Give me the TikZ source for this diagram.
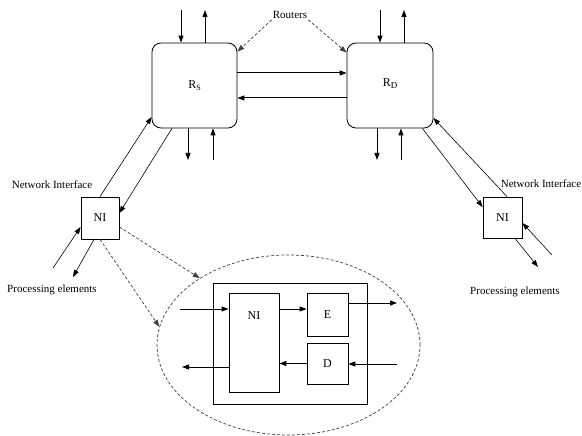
\documentclass[tikz,border=0pt]{standalone}
\usepackage{fontspec}
\setmainfont{Liberation Serif}
\usetikzlibrary{arrows.meta,shapes.geometric}
\begin{document}
\begin{tikzpicture}[x=1pt,y=-1pt,
  router/.style={draw,line width=0.8pt,rounded corners=9pt,inner sep=0pt,font=\fontsize{12}{14}\selectfont},
  box/.style={draw,line width=0.8pt,inner sep=0pt,font=\fontsize{12}{14}\selectfont},
  lbl/.style={font=\fontsize{11}{13}\selectfont,inner sep=1pt},
  arr/.style={line width=1pt,-{Triangle[length=7pt,width=5pt]}},
  thin arr/.style={line width=0.6pt,-{Triangle[length=7pt,width=5pt]}},
  dasharr/.style={line width=0.7pt,black!75,dash pattern=on 3pt off 2pt,-{Triangle[length=7pt,width=5pt]}}]
\useasboundingbox (0,0) rectangle (582,436);

% routers
\node[router,minimum width=85pt,minimum height=85pt] (rs) at (194.5,85.5) {R\raisebox{-0.35ex}{\fontsize{8}{9}\selectfont S}};
\node[router,minimum width=86pt,minimum height=85pt] (rd) at (390,85.5) {\raisebox{1ex}{R\raisebox{-0.35ex}{\fontsize{9}{9}\selectfont D}}};
\node[lbl] (routers) at (290,15) {Routers};
\draw[dasharr] (routers.south west) -- ([yshift=-9pt]rs.north east);
\draw[dasharr] (routers.south east) -- ([yshift=-10pt]rd.north west);

% links between the routers
\draw[arr] ([yshift=12.5pt]rs.east) -- ([yshift=12.5pt]rd.west);
\draw[arr] ([yshift=-12.5pt]rd.west) -- ([yshift=-12.5pt]rs.east);

% local ports of the routers
\coordinate (rsInT) at (181,10);
\coordinate (rsOutT) at (205,10);
\coordinate (rsOutB) at (188,160);
\coordinate (rsInB) at (213,160);
\coordinate (rdInT) at (380,10);
\coordinate (rdOutT) at (404,10);
\coordinate (rdOutB) at (377,160);
\coordinate (rdInB) at (401,160);
\draw[arr] (rsInT) -- (rsInT |- rs.north);
\draw[arr] (rsOutT |- rs.north) -- (rsOutT);
\draw[arr] (rsOutB |- rs.south) -- (rsOutB);
\draw[arr] (rsInB) -- (rsInB |- rs.south);
\draw[arr] (rdInT) -- (rdInT |- rd.north);
\draw[arr] (rdOutT |- rd.north) -- (rdOutT);
\draw[arr] (rdOutB |- rd.south) -- (rdOutB);
\draw[arr] (rdInB) -- (rdInB |- rd.south);

% network interfaces
\node[box,minimum width=38pt,minimum height=42pt] (niL) at (100,218) {NI};
\node[box,minimum width=39pt,minimum height=41pt] (niR) at (502.5,217.5) {NI};
\node[lbl] (netL) at (52,185) {Network Interface};
\node[lbl] (peL) at (52,290) {Processing elements};
\node[lbl] (netR) at (541,184) {Network Interface};
\node[lbl] (peR) at (515,292) {Processing elements};

\draw[thin arr] (niL.north) -- ([yshift=-31.5pt]rs.west);
\draw[thin arr] ([xshift=-22.5pt]rs.south) -- ([yshift=5pt]niL.east);
\coordinate (peLin) at (53,268);
\coordinate (peLout) at (73,277);
\draw[thin arr] (peLin) -- ([yshift=-9pt]niL.west);
\draw[thin arr] ([xshift=-6pt]niL.south) -- (peLout);

\draw[thin arr] ([xshift=-11pt]rd.south east) -- ([yshift=10.5pt]niR.west);
\draw[thin arr] ([xshift=4.5pt]niR.north) -- ([yshift=-32.5pt]rd.east);
\coordinate (peRout) at (538,267);
\coordinate (peRin) at (552,255);
\draw[thin arr] ([xshift=12.5pt]niR.south) -- (peRout);
\draw[thin arr] (peRin) -- ([yshift=-5.5pt]niR.east);

% detail of the network interface
\node[ellipse,draw,black!75,line width=0.7pt,dash pattern=on 3pt off 2pt,minimum width=263pt,minimum height=180pt,inner sep=0pt] (inset) at (288.5,345) {};
\draw[dasharr] ([yshift=-9pt]niL.east) -- (inset.143);
\draw[dasharr] (niL.south) -- (inset.172);

\node[box,minimum width=154pt,minimum height=121pt] (frame) at (290,343.5) {};
\node[box,minimum width=50pt,minimum height=99pt] (niB) at (254,342.5) {};
\node[font=\fontsize{12}{14}\selectfont] (niBtxt) at (254,316) {NI};
\node[box,minimum width=41pt,minimum height=43pt] (enc) at (327.5,314.5) {E};
\node[box,minimum width=41pt,minimum height=41pt] (dec) at (327.5,363.5) {D};

\coordinate (inA) at (180,309);
\coordinate (outA) at (182,367);
\coordinate (encOut) at (397,303);
\coordinate (decIn) at (397,364);
\draw[arr] (inA) -- (inA -| niB.west);
\draw[arr] ([yshift=5.5pt]enc.west -| niB.east) -- ([yshift=5.5pt]enc.west);
\draw[arr] ([yshift=11.5pt]enc.east) -- (encOut);
\draw[arr] (decIn) -- (decIn -| dec.east);
\draw[arr] (dec.west) -- (dec.west -| niB.east);
\draw[arr] (outA -| niB.west) -- (outA);
\end{tikzpicture}
\end{document}
